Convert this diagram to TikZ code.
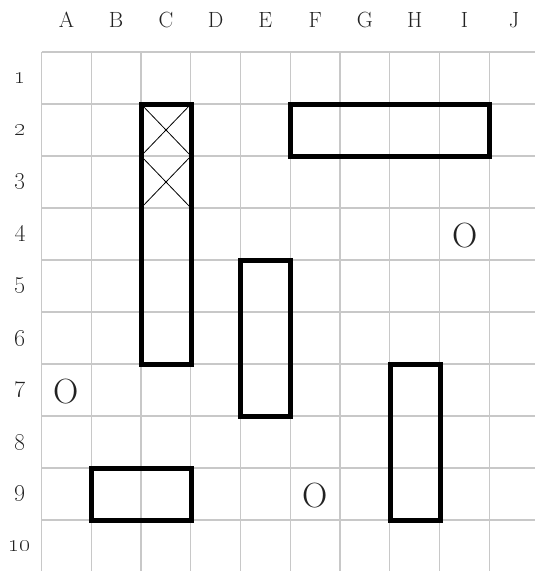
\documentclass[tikz,border=0pt]{standalone}
\definecolor{gridgray}{HTML}{C8C8C8}
\definecolor{txt}{HTML}{222222}
\tikzset{
  gridline/.style={draw=gridgray, line width=1.4pt},
  shipbox/.style={draw=black, line width=5pt, line join=miter},
  hitline/.style={draw=black, line width=0.8pt},
  collabel/.style={text=txt, font=\fontsize{22}{24}\selectfont, inner sep=0pt},
  rowlabel/.style={text=txt, font=\fontsize{24}{26}\selectfont, inner sep=0pt},
  missmark/.style={text=txt, font=\fontsize{35}{40}\selectfont, inner sep=0pt}
}
\begin{document}
\begin{tikzpicture}[x=1pt, y=-1pt]
\useasboundingbox (0,0) rectangle (535,571);
\fill[white] (0,0) rectangle (535,571);
% grid
\foreach \i in {0,...,9} {
  \draw[gridline] ({41.5+49.75*\i},52) -- ({41.5+49.75*\i},571);
}
\foreach \j in {0,...,9} {
  \draw[gridline] (41.5,{52+52*\j}) -- (535,{52+52*\j});
}
% column labels
\foreach \c [count=\i from 0] in {A,B,C,D,E,F,G,H,I,J} {
  \node[collabel] (col\c) at ({66.4+49.75*\i},20) {\c};
}
% row labels
\foreach \r [count=\j from 0] in {1,...,10} {
  \node[rowlabel] (row\r) at (20,{78+52*\j}) {\oldstylenums{\r}};
}
% hit crosses in C2, C3
\draw[hitline] (141,104) -- (191,156) (191,104) -- (141,156);
\draw[hitline] (141,156) -- (191,208) (191,156) -- (141,208);
% ships
\draw[shipbox] (141,104) rectangle (191,364);
\draw[shipbox] (290.5,104) rectangle (489.5,156);
\draw[shipbox] (240.5,260) rectangle (290.5,416);
\draw[shipbox] (390,364) rectangle (440,520);
\draw[shipbox] (91.5,468) rectangle (191,520);
% misses
\node[missmark] (missI4) at (465,236) {O};
\node[missmark] (missA7) at (66.4,392) {O};
\node[missmark] (missF9) at (315.5,496) {O};
\end{tikzpicture}
\end{document}
